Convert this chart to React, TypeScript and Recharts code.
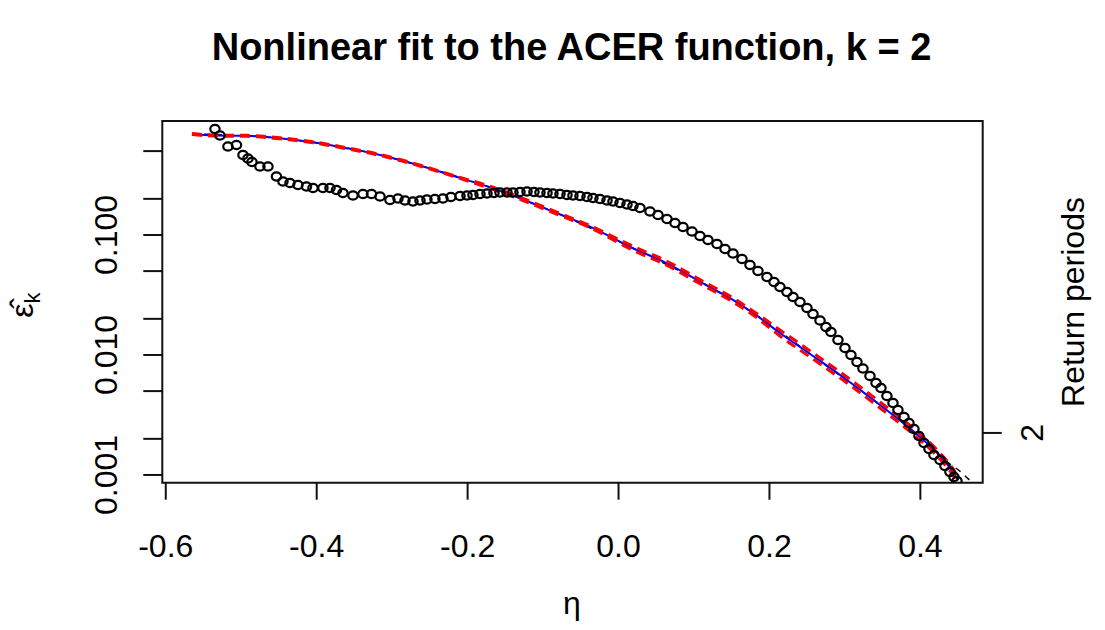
import React from 'react';
import { ComposedChart, Scatter, Line, XAxis, YAxis, ReferenceArea } from 'recharts';

// empirical ACER estimates (open circles)
const etaObs = [
  -0.5348, -0.5282, -0.5176, -0.5063, -0.4977, -0.4911, -0.4858, -0.4752, -0.4646, -0.4533,
  -0.4447, -0.4354, -0.4248, -0.4135, -0.4049, -0.3917, -0.3824, -0.3738, -0.3652, -0.3519,
  -0.3387, -0.3274, -0.3161, -0.3029, -0.2923, -0.283, -0.2724, -0.2631, -0.2539, -0.2433,
  -0.2327, -0.2221, -0.2101, -0.2008, -0.1929, -0.1836, -0.1743, -0.1651, -0.1571, -0.1478,
  -0.1399, -0.1306, -0.1213, -0.1121, -0.1041, -0.0948, -0.0869, -0.0776, -0.0683, -0.0604,
  -0.0511, -0.0418, -0.0339, -0.0246, -0.0153, -0.0074, 0.0019, 0.0112, 0.0191, 0.0284,
  0.0417, 0.0523, 0.0642, 0.0748, 0.0854, 0.0973, 0.1079, 0.1185, 0.1305, 0.1411,
  0.1517, 0.1636, 0.1742, 0.1848, 0.1967, 0.206, 0.2139, 0.2232, 0.2312, 0.2404,
  0.2497, 0.2577, 0.267, 0.2749, 0.2815, 0.2908, 0.3001, 0.308, 0.316, 0.3239,
  0.3332, 0.3412, 0.3478, 0.3557, 0.3637, 0.3703, 0.3783, 0.3849, 0.3915, 0.3981,
  0.4048, 0.4114, 0.418, 0.426, 0.4326, 0.4392, 0.4445, 0.4485,
];
const acerObs = [
  0.7647, 0.6747, 0.5464, 0.5623, 0.4642, 0.4339, 0.4058, 0.3722, 0.3722, 0.3073,
  0.2791, 0.2712, 0.261, 0.2536, 0.2464, 0.2464, 0.2464, 0.2371, 0.2239, 0.2134,
  0.2196, 0.2196, 0.2093, 0.1957, 0.2014, 0.1938, 0.1902, 0.1938, 0.1976, 0.1995,
  0.2014, 0.2073, 0.2113, 0.2134, 0.2154, 0.2196, 0.2217, 0.2239, 0.226, 0.226,
  0.226, 0.2282, 0.2304, 0.2282, 0.226, 0.2239, 0.2217, 0.2196, 0.2154, 0.2134,
  0.2113, 0.2073, 0.2034, 0.1995, 0.1938, 0.1902, 0.1848, 0.1795, 0.1744, 0.1679,
  0.157, 0.1468, 0.1359, 0.1259, 0.1166, 0.107, 0.0981, 0.09085, 0.08414, 0.07646,
  0.07013, 0.0631, 0.05623, 0.05012, 0.04467, 0.04058, 0.03687, 0.0335, 0.03043, 0.02765,
  0.02464, 0.02196, 0.01938, 0.01711, 0.01555, 0.01334, 0.01144, 0.01, 0.008742, 0.00772,
  0.006683, 0.005843, 0.005309, 0.004551, 0.003981, 0.00348, 0.003043, 0.002712, 0.002417, 0.002113,
  0.001848, 0.001647, 0.001468, 0.001334, 0.001189, 0.001059, 0.000962, 0.000891,
];

// fitted curve (blue) and confidence band (red dashed)
const etaFit = [
  -0.5653, -0.5375, -0.4924, -0.4487, -0.4049, -0.3599, -0.3161, -0.2896, -0.2592, -0.2141,
  -0.1704, -0.1266, -0.0816, -0.0378, 0.0191, 0.0642, 0.1079, 0.1517, 0.1782, 0.2139,
  0.2577, 0.3027, 0.3465, 0.3902, 0.422, 0.4432, 0.4498,
];
const acerFit = [
  0.6944, 0.6747, 0.6708, 0.6395, 0.5922, 0.528, 0.4642, 0.4217, 0.3722, 0.3043,
  0.2497, 0.1976, 0.1517, 0.1173, 0.07749, 0.05808, 0.04082, 0.02873, 0.02239, 0.01525,
  0.00981, 0.006188, 0.003831, 0.002326, 0.001526, 0.001059, 0.000909,
];
const acerUpper = [
  0.7, 0.681, 0.677, 0.646, 0.598, 0.533, 0.469, 0.426, 0.376, 0.3073,
  0.255, 0.2015, 0.1547, 0.1196, 0.0806, 0.0604, 0.04245, 0.02988, 0.0233, 0.01617,
  0.0104, 0.00656, 0.00406, 0.002466, 0.001618, 0.001123, 0.000964,
];
const acerLower = [
  0.6875, 0.668, 0.664, 0.633, 0.586, 0.523, 0.4596, 0.4175, 0.3685, 0.3013,
  0.2448, 0.1937, 0.1487, 0.115, 0.0745, 0.0558, 0.03925, 0.02763, 0.02153, 0.01439,
  0.00925, 0.00584, 0.003614, 0.002194, 0.00144, 0.000999, 0.00087,
];

// black dashed curve
const etaAlt = [
  -0.5653, -0.4924, -0.4049, -0.3161, -0.2592, -0.1704, -0.0816, 0.0191, 0.1079, 0.1782,
  0.2577, 0.3465, 0.3902, 0.422, 0.4326, 0.4432, 0.4551, 0.4684,
];
const acerAlt = [
  0.6944, 0.6708, 0.5922, 0.4642, 0.3722, 0.2497, 0.1517, 0.07749, 0.04082, 0.02239,
  0.00981, 0.003831, 0.002326, 0.001526, 0.001308, 0.001189, 0.001039, 0.000866,
];

const xTicks = [-0.6, -0.4, -0.2, 0, 0.2, 0.4];
const yTicks = [0.001, 0.002, 0.005, 0.01, 0.02, 0.05, 0.1, 0.2, 0.5];
const yTickLabels: Record<string, string> = { '0.001': '0.001', '0.01': '0.010', '0.1': '0.100' };
const returnTicks = [0.00224];
const returnTickLabels = ['2'];

const xDomain = [-0.6046, 0.4826];
const yDomain = [0.000862, 0.891];

const toPoints = (xs: number[], ys: number[]) => xs.map((x, i) => ({ x, y: ys[i] }));
const obs = toPoints(etaObs, acerObs);
const fit = toPoints(etaFit, acerFit);
const upper = toPoints(etaFit, acerUpper);
const lower = toPoints(etaFit, acerLower);
const alt = toPoints(etaAlt, acerAlt);

const FONT = '"Liberation Sans", Arial, sans-serif';
const INK = '#111';

const XTick = (props: any) => {
  const { x, y, payload } = props;
  return (
    <text x={x} y={y + 55} textAnchor="middle" fontSize={32} fontFamily={FONT} fill="#000">
      {Number(payload.value).toFixed(1)}
    </text>
  );
};

const YTick = (props: any) => {
  const { x, y, payload } = props;
  const label = yTickLabels[String(payload.value)];
  if (!label) return null;
  const bx = x - 24;
  return (
    <text x={bx} y={y} transform={`rotate(-90, ${bx}, ${y})`} textAnchor="middle" fontSize={32} fontFamily={FONT} fill="#000">
      {label}
    </text>
  );
};

const RTick = (props: any) => {
  const { x, y, index } = props;
  const bx = x + 39;
  return (
    <text x={bx} y={y} transform={`rotate(-90, ${bx}, ${y})`} textAnchor="middle" fontSize={32} fontFamily={FONT} fill="#000">
      {returnTickLabels[index]}
    </text>
  );
};

const Ring = (props: any) => (
  <ellipse cx={props.cx} cy={props.cy} rx={4.7} ry={4.1} fill="none" stroke="#000" strokeWidth={2.2} />
);

export default function App() {
  return (
    <div style={{ position: 'absolute', left: 0, top: 0, width: 1105, height: 630, background: '#fff' }}>
      <ComposedChart width={1105} height={630} margin={{ top: 121, right: 42.3, bottom: 87.3, left: 82.3 }}>
        <XAxis
          dataKey="x"
          type="number"
          domain={xDomain}
          ticks={xTicks}
          allowDataOverflow
          height={60}
          tickSize={17}
          axisLine={false}
          tickLine={{ stroke: INK, strokeWidth: 2 }}
          tick={<XTick />}
        />
        <YAxis
          dataKey="y"
          type="number"
          scale="log"
          domain={yDomain}
          ticks={yTicks}
          allowDataOverflow
          width={80}
          tickSize={19}
          axisLine={false}
          tickLine={{ stroke: INK, strokeWidth: 2 }}
          tick={<YTick />}
        />
        <YAxis
          yAxisId="right"
          orientation="right"
          type="number"
          scale="log"
          domain={yDomain}
          ticks={returnTicks}
          allowDataOverflow
          width={80}
          tickSize={19}
          axisLine={false}
          tickLine={{ stroke: INK, strokeWidth: 2 }}
          tick={<RTick />}
        />
        <Scatter data={obs} dataKey="y" shape={<Ring />} isAnimationActive={false} />
        <Line data={alt} dataKey="y" type="monotoneX" stroke="#000" strokeWidth={1.5} strokeDasharray="6 6" dot={false} activeDot={false} isAnimationActive={false} />
        <Line data={fit} dataKey="y" type="monotoneX" stroke="#0000ff" strokeWidth={2} dot={false} activeDot={false} isAnimationActive={false} />
        <Line data={upper} dataKey="y" type="monotoneX" stroke="#ff0000" strokeWidth={3} strokeDasharray="10 6" dot={false} activeDot={false} isAnimationActive={false} />
        <Line data={lower} dataKey="y" type="monotoneX" stroke="#ff0000" strokeWidth={3} strokeDasharray="10 6" dot={false} activeDot={false} isAnimationActive={false} />
        <ReferenceArea x1={xDomain[0]} x2={xDomain[1]} y1={yDomain[0]} y2={yDomain[1]} fill="none" stroke={INK} strokeWidth={2} fillOpacity={0} />
      </ComposedChart>
      <svg width={1105} height={630} style={{ position: 'absolute', left: 0, top: 0, pointerEvents: 'none' }}>
        <text x={571.5} y={60} textAnchor="middle" fontSize={38} fontWeight="bold" fontFamily={FONT} fill="#000">
          Nonlinear fit to the ACER function, k = 2
        </text>
        <text x={572} y={614} textAnchor="middle" fontSize={32} fontFamily={FONT} fill="#000">η</text>
        <text x={33} y={305} transform="rotate(-90, 33, 305)" textAnchor="middle" fontSize={32} fontFamily={FONT} fill="#000">
          ε̂<tspan fontSize={22} dy={7}>k</tspan>
        </text>
        <text x={1084} y={302} transform="rotate(-90, 1084, 302)" textAnchor="middle" fontSize={32} fontFamily={FONT} fill="#000">
          Return periods
        </text>
      </svg>
    </div>
  );
}
